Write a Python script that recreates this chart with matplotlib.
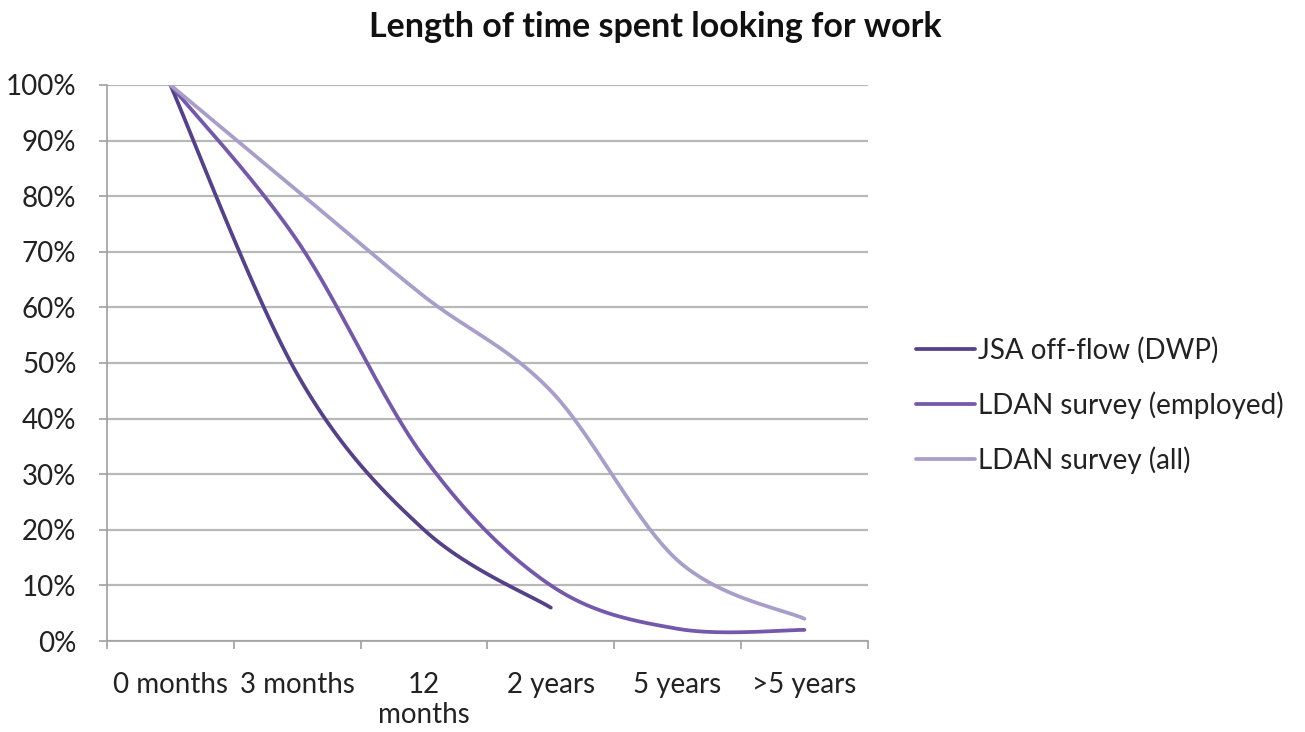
import numpy as np
import matplotlib
matplotlib.use("Agg")
import matplotlib.pyplot as plt

plt.rcParams['font.family'] = ['Lato', 'DejaVu Sans']

categories = ["0 months", "3 months", "12\nmonths", "2 years", "5 years", ">5 years"]
jsa = [100, 48, 20, 6]
ldan_employed = [100, 72, 33, 10, 2.2, 2]
ldan_all = [100, 81, 62, 45, 14.5, 4]
series_names = ["JSA off-flow (DWP)", "LDAN survey (employed)", "LDAN survey (all)"]
series_colors = ["#55408a", "#7458ab", "#a99dca"]


def smooth(xs, ys, n=40):
    xs = np.asarray(xs, float)
    ys = np.asarray(ys, float)
    P = np.column_stack([xs, ys])
    out = []
    m = len(P)
    for i in range(m - 1):
        p0 = P[i - 1] if i > 0 else P[i]
        p1 = P[i]
        p2 = P[i + 1]
        p3 = P[i + 2] if i + 2 < m else P[i + 1]
        c1 = p1 + (p2 - p0) / 6.0
        c2 = p2 - (p3 - p1) / 6.0
        t = np.linspace(0, 1, n)[:, None]
        seg = ((1 - t) ** 3) * p1 + 3 * ((1 - t) ** 2) * t * c1 + 3 * (1 - t) * t ** 2 * c2 + t ** 3 * p2
        out.append(seg if i == 0 else seg[1:])
    arr = np.vstack(out)
    return arr[:, 0], arr[:, 1]


fs = 20
fig = plt.figure(figsize=(13.05, 7.32), dpi=100)
ax = fig.add_axes([0.082, 0.1243, 0.583, 0.7596])

for vals, name, col in zip([jsa, ldan_employed, ldan_all], series_names, series_colors):
    x = np.arange(len(vals))
    sx, sy = smooth(x, vals)
    ax.plot(sx, sy, color=col, lw=2.7, label=name, solid_capstyle='round', zorder=3)

ax.set_xlim(-0.5, len(categories) - 0.5)
ax.set_ylim(0, 100)
ax.set_yticks(np.arange(0, 101, 10))
ax.set_yticklabels([f"{v}%" for v in range(0, 101, 10)], fontsize=fs, color='#222222')
ax.set_xticks(np.arange(len(categories)))
ax.set_xticklabels(categories, fontsize=fs, linespacing=1.2, color='#222222')
ax.set_xticks(np.arange(-0.5, len(categories)), minor=True)
ax.tick_params(axis='x', which='major', length=0, pad=22)
ax.tick_params(axis='x', which='minor', length=6, color='#a0a0a0', width=1.2)
ax.tick_params(axis='y', length=6, color='#a0a0a0', width=1.2, pad=16)
ax.grid(axis='y', color='#b8b8b8', lw=1.6, zorder=0)
for s in ['top', 'right']:
    ax.spines[s].set_visible(False)
for s in ['left', 'bottom']:
    ax.spines[s].set_color('#a0a0a0')
    ax.spines[s].set_linewidth(1.2)
ax.set_axisbelow(True)

fig.text(0.502, 0.963, "Length of time spent looking for work", ha='center', va='center',
         fontsize=24.5, fontweight='bold', color='#111111')

leg = ax.legend(loc='center left', bbox_to_anchor=(1.03, 0.424), frameon=False,
                fontsize=fs, handlelength=2.15, handletextpad=0.1, labelspacing=1.0)
for t in leg.get_texts():
    t.set_color('#222222')

fig.savefig("out.png", dpi=100)
